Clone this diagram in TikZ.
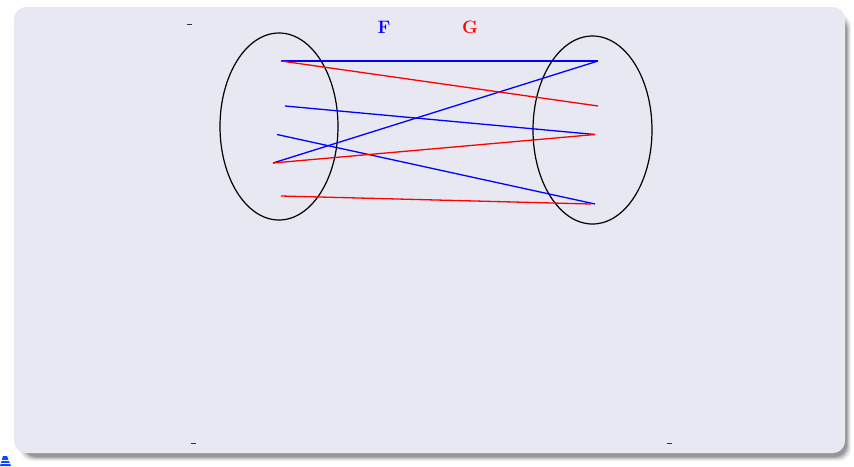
\documentclass[tikz,border=0pt]{standalone}
\usepackage{tikz}
\usetikzlibrary{shapes.geometric}
\definecolor{panel}{RGB}{232,232,243}
\definecolor{dashc}{RGB}{50,50,50}
\tikzset{
  setline/.style={black, line width=1.2pt},
  fmap/.style={blue, line width=1.3pt},
  gmap/.style={red, line width=1.3pt},
  lbl/.style={font=\bfseries\fontsize{18}{20}\selectfont, inner sep=0pt},
  tick/.style={dashc, line width=1pt},
}
\begin{document}
\begin{tikzpicture}[x=1pt,y=-1pt]
\useasboundingbox (0,0) rectangle (854,466);
\fill[white] (0,0) rectangle (854,466);
% shadow
\foreach \i/\o in {0/0.05,1/0.07,2/0.09,3/0.12,4/0.15} {
  \fill[black, opacity=\o, rounded corners=12pt]
    (20+\i,14+\i) rectangle (851-\i,461-\i);
}
% panel
\fill[panel, rounded corners=12pt] (14,7) rectangle (845,453);
% icon
\fill[blue!70!cyan] (0,466) -- (3,456) -- (7,456) -- (11,466) -- cycle;
\draw[white, line width=0.4pt] (1,460) -- (10,460) (0.5,463) -- (10.5,463);
% ticks
\draw[tick] (187,24) -- (192,24);
\draw[tick] (191,443) -- (196,443);
\draw[tick] (667,443) -- (672,443);
% labels
\node[lbl, text=blue] (F) at (384,27) {F};
\node[lbl, text=red] (G) at (470,27) {G};
% sets
\node[setline, draw, ellipse, minimum width=118pt, minimum height=187pt, inner sep=0pt] (A) at (279,126.5) {};
\node[setline, draw, ellipse, minimum width=119pt, minimum height=188pt, inner sep=0pt] (B) at (592.5,130) {};
% points
\coordinate (l1) at (281,61);
\coordinate (l2) at (285,106);
\coordinate (l3) at (277,134.5);
\coordinate (l4) at (273,163);
\coordinate (l5) at (281,196);
\coordinate (r1) at (598,61);
\coordinate (r2) at (598,106);
\coordinate (r3) at (595,134.5);
\coordinate (r4) at (595,204);
\coordinate (r4g) at (591,204);
% F
\draw[fmap] (l1) -- (r1);
\draw[fmap] (l2) -- (r3);
\draw[fmap] (l3) -- (r4);
\draw[fmap] (l4) -- (r1);
% G
\draw[gmap] (l1) -- (r2);
\draw[gmap] (l4) -- (r3);
\draw[gmap] (l5) -- (r4g);
\end{tikzpicture}
\end{document}
